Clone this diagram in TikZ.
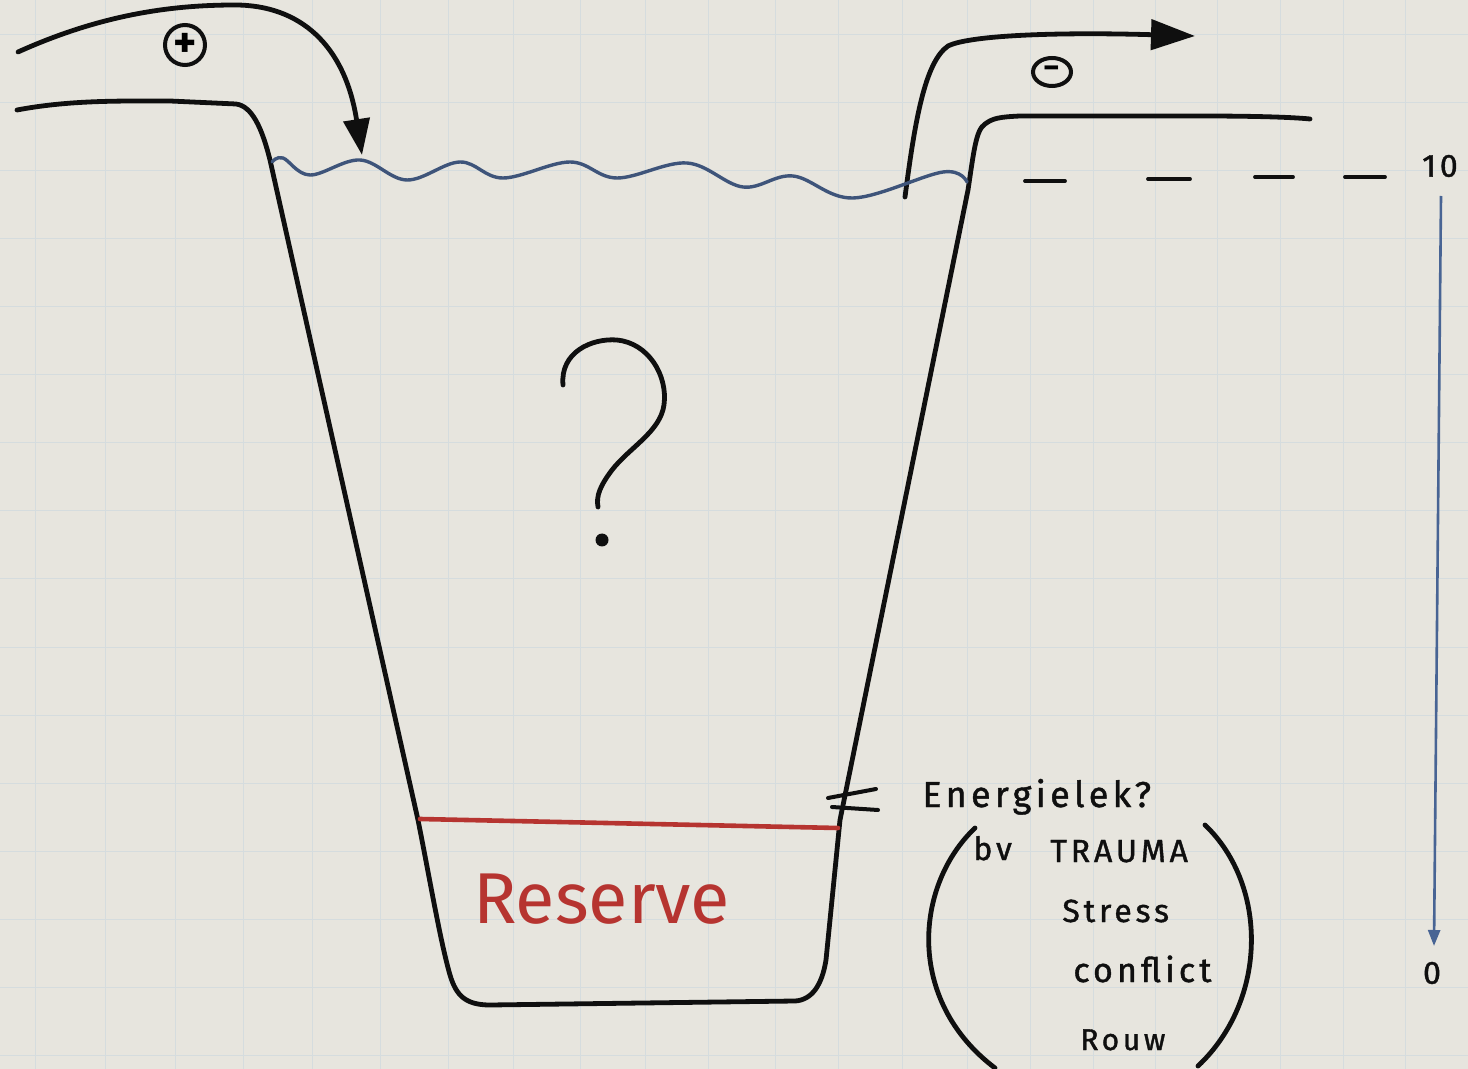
\documentclass[tikz,border=0pt]{standalone}
\usepackage{fontspec}
\setmainfont{Fira Sans}
\newfontfamily\hand{Fira Sans}[LetterSpace=12,FakeBold=1.2]
\usetikzlibrary{arrows.meta,shapes.geometric}
\definecolor{paper}{RGB}{231,229,222}
\definecolor{gridc}{RGB}{213,220,222}
\definecolor{ink}{RGB}{15,15,15}
\definecolor{water}{RGB}{62,84,122}
\definecolor{scaleblue}{RGB}{72,100,148}
\definecolor{redink}{RGB}{182,52,48}
\begin{document}
\begin{tikzpicture}[x=0.5pt,y=-0.5pt,
  pen/.style={draw=ink,line width=2.4pt,line cap=round,line join=round},
  gridline/.style={draw=gridc,line width=0.5pt},
  label/.style={anchor=base west,text=ink,inner sep=0pt},
  bigtip/.style={-{Triangle[length=18pt,width=13pt]}}]
\fill[paper] (0,0) rectangle (1468,1069);
\useasboundingbox (0,0) rectangle (1468,1069);
% paper grid
\foreach \gx in {35,105,175,243,312,380,448,513,580,645,708,775,838,902,967,1030,1093,1155,1217,1280,1343,1405}
  \draw[gridline] (\gx,0) -- (\gx,1069);
\foreach \gy in {35,103,...,1055}
  \draw[gridline] (0,\gy) -- (1468,\gy);
% cup outline with pipes
\draw[pen] (17,110) .. controls (70,100) and (120,101) .. (170,101) -- (236,104)
  .. controls (252,106) and (262,128) .. (270,160) -- (418,820)
  .. controls (430,880) and (440,940) .. (450,975)
  .. controls (456,995) and (465,1005) .. (490,1005) -- (795,1001)
  .. controls (812,1000) and (822,985) .. (826,960) -- (840,820) -- (968,190)
  .. controls (974,150) and (976,130) .. (985,124)
  .. controls (993,118) and (1000,117) .. (1020,116) -- (1200,116)
  .. controls (1250,116) and (1290,117) .. (1310,119);
% inflow arrow
\coordinate (inA) at (18,52);
\coordinate (inB) at (362,155);
\draw[pen,bigtip] (inA) .. controls (100,15) and (170,5) .. (235,5)
  .. controls (300,5) and (345,45) .. (inB);
\node[circle,draw=ink,line width=2pt,minimum size=20pt,inner sep=0pt,
  font=\bfseries\fontsize{22}{22}\selectfont] (plus) at (185,45) {+};
% outflow arrow
\coordinate (outA) at (905,197);
\coordinate (outB) at (1195,36);
\draw[pen,-{Triangle[length=22pt,width=15pt]}] (outA) .. controls (915,120) and (925,62) .. (948,46)
  .. controls (970,35) and (1060,32) .. (outB);
\node[ellipse,draw=ink,line width=2pt,minimum width=19pt,minimum height=14pt,inner sep=0pt,
  font=\bfseries\fontsize{16}{16}\selectfont] (minus) at (1052,72) {−};
% water surface
\draw[water,line width=1.7pt,line cap=round] plot[smooth,tension=0.6] coordinates
  {(272,162) (283,158) (310,175) (360,160) (407,180) (460,162) (503,178) (570,162)
   (617,178) (687,163) (743,187) (793,176) (853,198) (943,172) (967,182)};
% dashed level line
\foreach \a/\b/\yy in {1025/1065/181,1148/1190/179,1255/1293/177,1345/1385/177}
  \draw[pen,line width=1.9pt] (\a,\yy) -- (\b,\yy);
% scale
\node[text=ink,font=\hand\fontsize{16}{16}\selectfont] (ten) at (1440,166) {10};
\node[text=ink,font=\hand\fontsize{16}{16}\selectfont] (zero) at (1432,973) {0};
\coordinate (scaletop) at (1441,196);
\coordinate (scalebot) at (1434,946);
\draw[scaleblue,line width=1.3pt,-{Triangle[length=8pt,width=6pt]}] (scaletop) -- (scalebot);
% question mark (hand drawn)
\draw[pen] (563,385) .. controls (560,352) and (592,338) .. (617,340)
  .. controls (648,343) and (668,375) .. (664,405)
  .. controls (660,432) and (630,447) .. (612,470)
  .. controls (600,486) and (596,496) .. (598,507);
\fill[ink] (602,540) circle (6.5);
% reserve
\draw[redink,line width=2.3pt,line cap=round] (420,819) -- (838,828);
\node[anchor=base west,inner sep=0pt,text=redink,font=\fontsize{36}{36}\selectfont] (reserve) at (473,923) {Reserve};
% leak marks
\draw[pen,line width=2pt] (828,798) -- (876,789);
\draw[pen,line width=2pt] (832,807) -- (878,810);
% right texts
\node[label,font=\hand\fontsize{18}{18}\selectfont] (energ) at (922,807) {Energielek?};
\node[label,font=\hand\fontsize{16}{16}\selectfont] (bv) at (973,860) {bv};
\node[label,font=\hand\fontsize{16}{16}\selectfont] (trauma) at (1050,862) {TRAUMA};
\node[label,font=\hand\fontsize{16}{16}\selectfont] (stress) at (1062,922) {Stress};
\node[label,font=\hand\fontsize{17}{17}\selectfont] (conflict) at (1073,982) {conflict};
\node[label,font=\hand\fontsize{15}{15}\selectfont] (rouw) at (1080,1050) {Rouw};
% brackets
\draw[pen] (975,828) .. controls (915,885) and (905,1000) .. (995,1068);
\draw[pen] (1205,825) .. controls (1268,885) and (1268,1000) .. (1198,1066);
\end{tikzpicture}
\end{document}
